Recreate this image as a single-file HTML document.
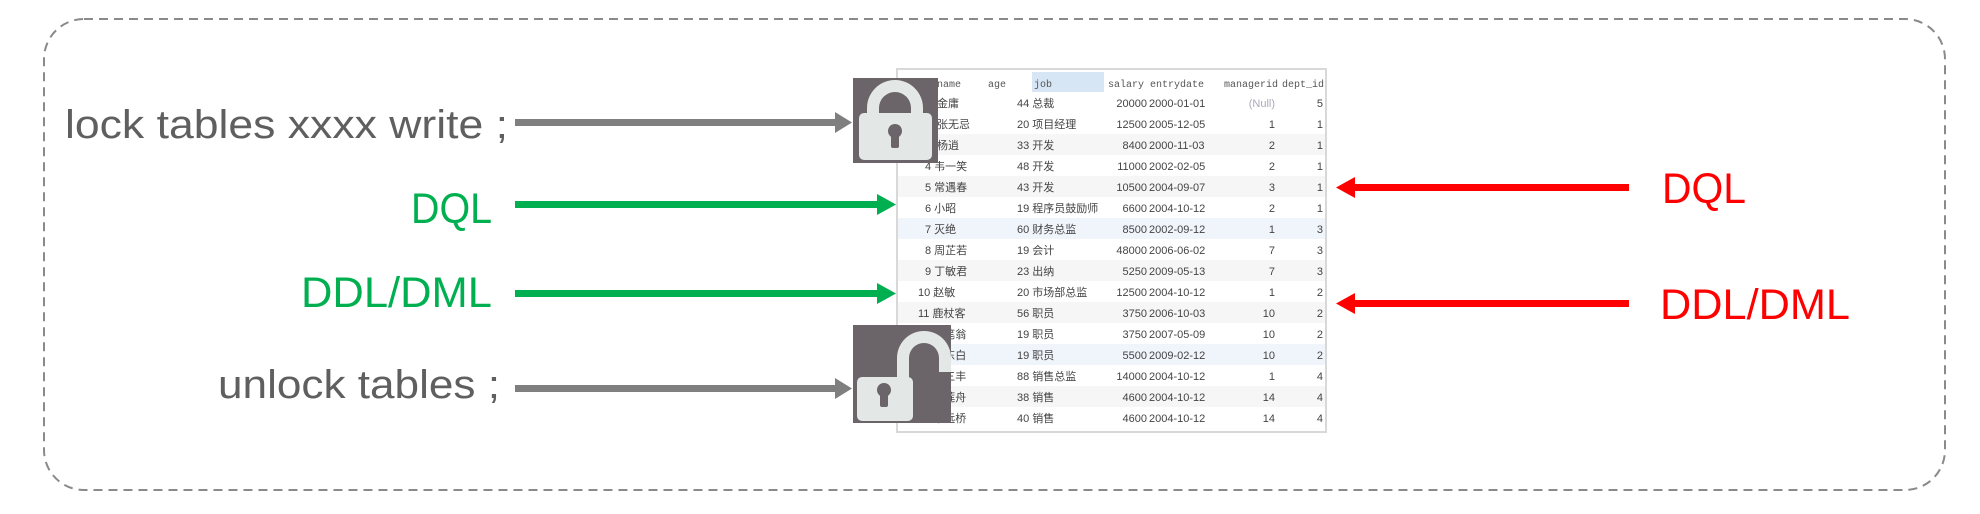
<!DOCTYPE html>
<html><head><meta charset="utf-8"><style>
html,body{margin:0;padding:0;background:#fff;width:1980px;height:514px;overflow:hidden}
svg{display:block}
</style></head><body>
<svg width="1980" height="514" viewBox="0 0 1980 514" xmlns="http://www.w3.org/2000/svg">
<rect x="44" y="19" width="1901" height="471" rx="40" ry="40" fill="none" stroke="#8a8a8a" stroke-width="2" stroke-dasharray="9 6"/>

<!-- table -->
<g>
<rect x="897" y="69" width="429" height="363" fill="#fff" stroke="#d8d8d8" stroke-width="2"/>
<rect x="1032" y="72" width="72" height="20" fill="#d6e6f5"/>
<g fill="#f6f6f6">
<rect x="898" y="134" width="427" height="21"/><rect x="898" y="176" width="427" height="21"/>
<rect x="898" y="218" width="427" height="21" fill="#f0f5fc"/><rect x="898" y="260" width="427" height="21"/>
<rect x="898" y="302" width="427" height="21"/><rect x="898" y="344" width="427" height="21" fill="#f0f5fc"/>
<rect x="898" y="386" width="427" height="21"/>
</g>
<g font-family="Liberation Mono, monospace" font-size="10" fill="#555">
<text x="937" y="87">name</text><text x="988" y="87">age</text><text x="1034" y="87">job</text><text x="1108" y="87">salary</text><text x="1150" y="87">entrydate</text><text x="1224" y="87">managerid</text><text x="1282" y="87">dept_id</text>
</g>
<g font-family="'Liberation Sans','Noto Sans CJK SC',sans-serif" font-size="11" fill="#444">
<text x="937" y="107">金庸</text><text x="1017" y="107">44 总裁</text><text x="1147" y="107" text-anchor="end">20000</text><text x="1149" y="107">2000-01-01</text><text x="1275" y="107" text-anchor="end" fill="#aab">(Null)</text><text x="1323" y="107" text-anchor="end">5</text>
<text x="937" y="128">张无忌</text><text x="1017" y="128">20 项目经理</text><text x="1147" y="128" text-anchor="end">12500</text><text x="1149" y="128">2005-12-05</text><text x="1275" y="128" text-anchor="end">1</text><text x="1323" y="128" text-anchor="end">1</text>
<text x="937" y="149">杨逍</text><text x="1017" y="149">33 开发</text><text x="1147" y="149" text-anchor="end">8400</text><text x="1149" y="149">2000-11-03</text><text x="1275" y="149" text-anchor="end">2</text><text x="1323" y="149" text-anchor="end">1</text>
<text x="925" y="170">4 韦一笑</text><text x="1017" y="170">48 开发</text><text x="1147" y="170" text-anchor="end">11000</text><text x="1149" y="170">2002-02-05</text><text x="1275" y="170" text-anchor="end">2</text><text x="1323" y="170" text-anchor="end">1</text>
<text x="925" y="191">5 常遇春</text><text x="1017" y="191">43 开发</text><text x="1147" y="191" text-anchor="end">10500</text><text x="1149" y="191">2004-09-07</text><text x="1275" y="191" text-anchor="end">3</text><text x="1323" y="191" text-anchor="end">1</text>
<text x="925" y="212">6 小昭</text><text x="1017" y="212">19 程序员鼓励师</text><text x="1147" y="212" text-anchor="end">6600</text><text x="1149" y="212">2004-10-12</text><text x="1275" y="212" text-anchor="end">2</text><text x="1323" y="212" text-anchor="end">1</text>
<text x="925" y="233">7 灭绝</text><text x="1017" y="233">60 财务总监</text><text x="1147" y="233" text-anchor="end">8500</text><text x="1149" y="233">2002-09-12</text><text x="1275" y="233" text-anchor="end">1</text><text x="1323" y="233" text-anchor="end">3</text>
<text x="925" y="254">8 周芷若</text><text x="1017" y="254">19 会计</text><text x="1147" y="254" text-anchor="end">48000</text><text x="1149" y="254">2006-06-02</text><text x="1275" y="254" text-anchor="end">7</text><text x="1323" y="254" text-anchor="end">3</text>
<text x="925" y="275">9 丁敏君</text><text x="1017" y="275">23 出纳</text><text x="1147" y="275" text-anchor="end">5250</text><text x="1149" y="275">2009-05-13</text><text x="1275" y="275" text-anchor="end">7</text><text x="1323" y="275" text-anchor="end">3</text>
<text x="918" y="296">10 赵敏</text><text x="1017" y="296">20 市场部总监</text><text x="1147" y="296" text-anchor="end">12500</text><text x="1149" y="296">2004-10-12</text><text x="1275" y="296" text-anchor="end">1</text><text x="1323" y="296" text-anchor="end">2</text>
<text x="918" y="317">11 鹿杖客</text><text x="1017" y="317">56 职员</text><text x="1147" y="317" text-anchor="end">3750</text><text x="1149" y="317">2006-10-03</text><text x="1275" y="317" text-anchor="end">10</text><text x="1323" y="317" text-anchor="end">2</text>
<text x="918" y="338">12 鹤笔翁</text><text x="1017" y="338">19 职员</text><text x="1147" y="338" text-anchor="end">3750</text><text x="1149" y="338">2007-05-09</text><text x="1275" y="338" text-anchor="end">10</text><text x="1323" y="338" text-anchor="end">2</text>
<text x="918" y="359">13 方东白</text><text x="1017" y="359">19 职员</text><text x="1147" y="359" text-anchor="end">5500</text><text x="1149" y="359">2009-02-12</text><text x="1275" y="359" text-anchor="end">10</text><text x="1323" y="359" text-anchor="end">2</text>
<text x="918" y="380">14 张三丰</text><text x="1017" y="380">88 销售总监</text><text x="1147" y="380" text-anchor="end">14000</text><text x="1149" y="380">2004-10-12</text><text x="1275" y="380" text-anchor="end">1</text><text x="1323" y="380" text-anchor="end">4</text>
<text x="918" y="401">15 俞莲舟</text><text x="1017" y="401">38 销售</text><text x="1147" y="401" text-anchor="end">4600</text><text x="1149" y="401">2004-10-12</text><text x="1275" y="401" text-anchor="end">14</text><text x="1323" y="401" text-anchor="end">4</text>
<text x="918" y="422">16 宋远桥</text><text x="1017" y="422">40 销售</text><text x="1147" y="422" text-anchor="end">4600</text><text x="1149" y="422">2004-10-12</text><text x="1275" y="422" text-anchor="end">14</text><text x="1323" y="422" text-anchor="end">4</text>
</g>
</g>

<!-- lock icon -->
<rect x="853" y="78" width="85" height="85" fill="#6b6468"/>
<path d="M867 120 V108 A28 28 0 0 1 923 108 V120 H911 V108 A16 16 0 0 0 879 108 V120 Z" fill="#e3e7e5"/>
<rect x="859" y="113" width="73" height="47" rx="5" fill="#e3e7e5"/>
<circle cx="895" cy="131" r="7" fill="#6b6468"/><rect x="891" y="132" width="8" height="16" rx="2" fill="#6b6468"/>

<!-- unlock icon -->
<rect x="853" y="325" width="98" height="98" fill="#6b6468"/>
<path d="M897 380 V358 A27 27 0 0 1 951 358 V372 H939 V358 A15 15 0 0 0 909 358 V380 Z" fill="#e3e7e5"/>
<rect x="857" y="377" width="56" height="44" rx="5" fill="#e3e7e5"/>
<circle cx="884" cy="390" r="7" fill="#6b6468"/><rect x="880" y="391" width="8" height="16" rx="2" fill="#6b6468"/>

<!-- texts -->
<g font-family="'Liberation Sans',sans-serif">
<text x="65" y="138" font-size="40" fill="#5f5f5f" textLength="443" lengthAdjust="spacingAndGlyphs">lock tables xxxx write ;</text>
<text x="411" y="223" font-size="43" fill="#00b050" textLength="81" lengthAdjust="spacingAndGlyphs">DQL</text>
<text x="301" y="307" font-size="43" fill="#00b050" textLength="191" lengthAdjust="spacingAndGlyphs">DDL/DML</text>
<text x="218" y="398" font-size="40" fill="#5f5f5f" textLength="282" lengthAdjust="spacingAndGlyphs">unlock tables ;</text>
<text x="1662" y="203" font-size="43" fill="#ff0000" textLength="84" lengthAdjust="spacingAndGlyphs">DQL</text>
<text x="1660" y="319" font-size="43" fill="#ff0000" textLength="190" lengthAdjust="spacingAndGlyphs">DDL/DML</text>
</g>

<!-- arrows -->
<g>
<rect x="515" y="119" width="322" height="7" fill="#7f7f7f"/><polygon points="835,112 852,122.5 835,133" fill="#7f7f7f"/>
<rect x="515" y="385" width="322" height="7" fill="#7f7f7f"/><polygon points="835,378 852,388.5 835,399" fill="#7f7f7f"/>
<rect x="515" y="201" width="365" height="7" fill="#00b050"/><polygon points="877,194 896,204.5 877,215" fill="#00b050"/>
<rect x="515" y="290" width="365" height="7" fill="#00b050"/><polygon points="877,283 896,293.5 877,304" fill="#00b050"/>
<rect x="1352" y="184" width="277" height="7" fill="#ff0000"/><polygon points="1355,177 1336,187.5 1355,198" fill="#ff0000"/>
<rect x="1352" y="300" width="277" height="7" fill="#ff0000"/><polygon points="1355,293 1336,303.5 1355,314" fill="#ff0000"/>
</g>
</svg>
</body></html>
